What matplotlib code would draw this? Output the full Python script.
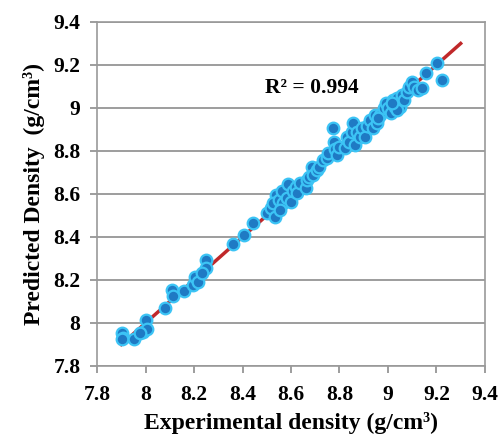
import matplotlib
matplotlib.use("Agg")
import matplotlib.pyplot as plt

exp_density = [7.904, 7.909, 7.902, 7.953, 7.988, 8.002, 8.008, 7.977, 8.080, 8.111,
               8.115, 8.159, 8.195, 8.204, 8.218, 8.248, 8.248, 8.232, 8.359, 8.408,
               8.442, 8.502, 8.516, 8.534, 8.538, 8.527, 8.552, 8.562, 8.568, 8.555,
               8.582, 8.589, 8.599, 8.610, 8.621, 8.626, 8.637, 8.662, 8.667, 8.676,
               8.685, 8.692, 8.706, 8.717, 8.733, 8.747, 8.754, 8.772, 8.777, 8.781,
               8.791, 8.799, 8.823, 8.832, 8.841, 8.850, 8.857, 8.864, 8.871, 8.885,
               8.891, 8.905, 8.912, 8.926, 8.937, 8.946, 8.953, 8.967, 8.984, 8.992,
               9.001, 9.011, 9.022, 9.029, 9.038, 9.050, 9.056, 9.066, 9.077, 9.088,
               9.098, 9.107, 9.125, 9.139, 9.159, 9.201, 9.221, 9.036, 9.015, 8.960]
pred_density = [7.952, 7.929, 7.924, 7.924, 7.960, 8.014, 7.970, 7.952, 8.068, 8.153,
                8.126, 8.150, 8.177, 8.212, 8.192, 8.293, 8.254, 8.231, 8.367, 8.409,
                8.467, 8.510, 8.533, 8.495, 8.595, 8.557, 8.572, 8.616, 8.557, 8.526,
                8.580, 8.647, 8.564, 8.616, 8.634, 8.603, 8.653, 8.626, 8.665, 8.681,
                8.727, 8.688, 8.712, 8.727, 8.758, 8.766, 8.789, 8.905, 8.843, 8.808,
                8.781, 8.820, 8.812, 8.864, 8.843, 8.890, 8.932, 8.828, 8.890, 8.867,
                8.905, 8.867, 8.916, 8.944, 8.905, 8.967, 8.929, 8.967, 8.998, 9.022,
                8.998, 8.975, 9.037, 9.006, 9.045, 9.006, 9.060, 9.037, 9.076, 9.096,
                9.122, 9.096, 9.084, 9.091, 9.164, 9.208, 9.130, 8.991, 9.022, 8.952]

fit_x = [7.9, 9.3]
fit_y = [7.9, 9.3]
ticks = [7.8, 8.0, 8.2, 8.4, 8.6, 8.8, 9.0, 9.2, 9.4]
tick_labels = ["7.8", "8", "8.2", "8.4", "8.6", "8.8", "9", "9.2", "9.4"]
r2_text = "R² = 0.994"

plt.rcParams['font.family'] = ['Liberation Serif', 'DejaVu Serif']
plt.rcParams['font.weight'] = 'bold'

fig = plt.figure(figsize=(5.03, 4.37), dpi=100)
ax = fig.add_axes([0.193, 0.1625, 0.771, 0.7872])

ax.set_xlim(7.8, 9.4)
ax.set_ylim(7.8, 9.4)
ax.set_xticks(ticks)
ax.set_xticklabels(tick_labels, fontsize=15.5, fontweight='bold')
ax.set_yticks(ticks)
ax.set_yticklabels(tick_labels, fontsize=15.5, fontweight='bold')

ax.grid(axis='y', color='#8c8c8c', linewidth=1.2, zorder=0)
ax.set_axisbelow(True)
for s in ax.spines.values():
    s.set_color('#9a9a9a')
    s.set_linewidth(1.2)

ax.tick_params(axis='both', direction='out', length=5, width=1.2, color='#8c8c8c')
ax.tick_params(axis='x', pad=9)
ax.tick_params(axis='y', pad=7)

ax.plot(fit_x, fit_y, color='#c0282a', linewidth=2.5, zorder=2)
ax.scatter(exp_density, pred_density, s=70, color='#1f7ac4', edgecolors='#3cc4f5',
           linewidths=1.6, zorder=3)

ax.text(8.493, 9.093, r2_text, fontsize=15.5, fontweight='bold', va='center', ha='left')

ax.set_xlabel("Experimental density (g/cm³)", fontsize=17, fontweight='bold', labelpad=5)
ax.set_ylabel("Predicted Density  (g/cm³)", fontsize=17, fontweight='bold', labelpad=6)

fig.savefig("out.png", dpi=100)
